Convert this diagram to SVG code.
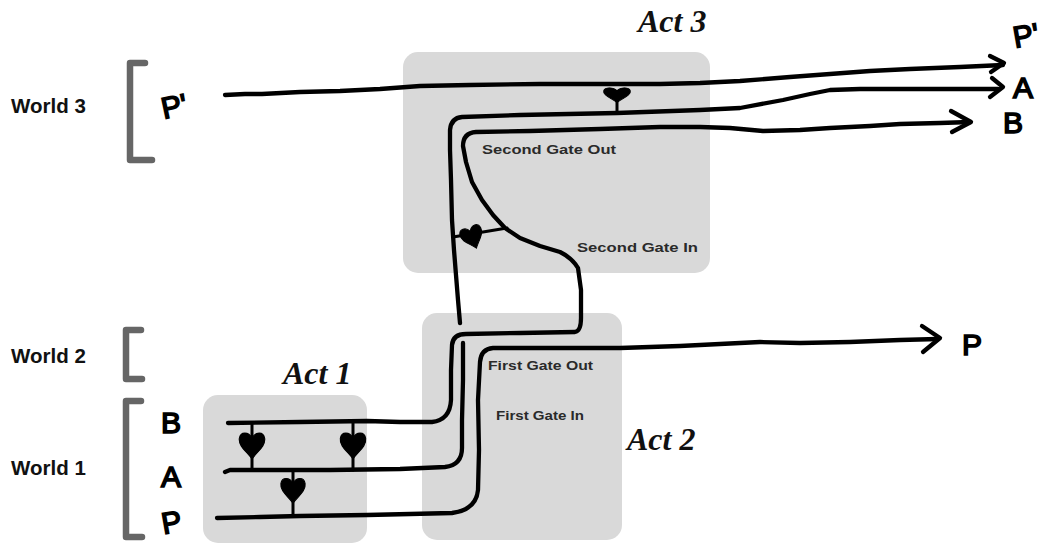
<svg xmlns="http://www.w3.org/2000/svg" width="1050" height="544" viewBox="0 0 1050 544">
<style>
.box{fill:#d9d9d9}
.act{font-family:"Liberation Serif",serif;font-weight:bold;font-style:italic;font-size:32px;fill:#111}
.gate{font-family:"Liberation Sans",sans-serif;font-weight:bold;font-size:13.5px;fill:#2a2a2a}
.world{font-family:"Liberation Sans",sans-serif;font-weight:bold;font-size:20.5px;fill:#111}
.brk{fill:none;stroke:#666;stroke-width:6.5;stroke-linecap:round;stroke-linejoin:round}
.hand{font-family:"Liberation Sans",sans-serif;font-size:30px;fill:#000;stroke:#000;stroke-width:1.6}
.wire{fill:none;stroke:#000;stroke-width:4.3;stroke-linecap:round;stroke-linejoin:round}
.heart{fill:#000;stroke:#000;stroke-width:1}
.stem{fill:none;stroke:#000;stroke-width:3;stroke-linecap:round}
</style>
<defs>
<path id="hrt" d="M0,13 C-4,7 -12,2 -11,-5 C-10,-11 -3,-11 0,-5 C3,-11 10,-11 11,-5 C12,2 4,7 0,13 Z"/>
</defs>

<g id="act3">
<rect class="box" x="403" y="52" width="307" height="221" rx="15"/>
<text class="act" x="638" y="32">Act 3</text>
<text class="gate" x="482" y="154" textLength="134" lengthAdjust="spacingAndGlyphs">Second Gate Out</text>
<text class="gate" x="577" y="252" textLength="121" lengthAdjust="spacingAndGlyphs">Second Gate In</text>
</g>

<g id="act2">
<rect class="box" x="422" y="313" width="200" height="227" rx="15"/>
<text class="act" x="627" y="450">Act 2</text>
<text class="gate" x="488" y="370" textLength="105" lengthAdjust="spacingAndGlyphs">First Gate Out</text>
<text class="gate" x="496" y="420" textLength="88" lengthAdjust="spacingAndGlyphs">First Gate In</text>
</g>

<g id="act1">
<rect class="box" x="203" y="395" width="164" height="148" rx="15"/>
<text class="act" x="283" y="384">Act 1</text>
</g>

<g id="world3">
<text class="world" x="11" y="113">World 3</text>
<path class="brk" d="M145,63 L130,63 L130,160 L152,160"/>
<text class="hand" x="160" y="117" transform="rotate(-12 172 100)">P'</text>
</g>

<g id="world2">
<text class="world" x="11" y="363">World 2</text>
<path class="brk" d="M141,330 L126,330 L126,379 L142,379"/>
</g>

<g id="world1">
<text class="world" x="11" y="475">World 1</text>
<path class="brk" d="M141,401 L126,401 L126,537 L142,537"/>
<text class="hand" x="161" y="433">B</text>
<text class="hand" x="161" y="487" font-size="26">A</text>
<text class="hand" x="161" y="533" transform="rotate(-10 170 520)">P</text>
</g>

<g id="outputs">
<text class="hand" x="1012" y="46" transform="rotate(-10 1025 30)">P'</text>
<text class="hand" x="1013" y="98" font-size="26">A</text>
<text class="hand" x="1003" y="133" font-size="28">B</text>
<text class="hand" x="962" y="355">P</text>
</g>

<g id="connectors">
<path class="wire" d="M225,95 L245,94 L262,94 L300,92 L340,91 L380,89 L420,86 L470,85 L540,84 L617,84 L660,84 L700,83 L740,81 L790,77 L830,74 L870,71 L910,69 L960,67 L1003,65"/>
<path class="wire" d="M990,56 L1004,63 L991,72"/>
<path class="wire" d="M460,323 L458,300 L456,275 L454,250 L452,220 L451,180 L450,150 L450,130 Q451,118 462,117 L520,115 L617,113 L700,110 L740,108 L783,100 L810,94 L830,90 L860,89 L920,89 L998,89"/>
<path class="wire" d="M992,78 L1003,87 L990,97"/>
<path class="wire" d="M463,343 L463,380 L462,420 L462,448 Q462,465 445,467 L400,469 L330,470 L260,470 L230,470 L225,472"/>
<path class="wire" d="M228,423 L300,422 L367,421 L400,422 L432,422 Q450,420 451,400 L451,370 L452,345 Q453,334 466,334 L520,333 L575,332 Q581,331 581,318 L581,290 L578,268 Q572,258 560,252 L540,246 L520,238 L505,228 L493,215 L482,200 L472,182 L466,162 L463,146 Q463,133 476,132 L530,131 L600,129 L660,127 L700,127 L730,128 L763,131 L800,130 L830,128 L870,126 L900,124 L940,123 L970,122"/>
<path class="wire" d="M951,111 L971,122 L952,132"/>
<path class="wire" d="M217,518 L260,517 L300,516 L367,515 L410,514 L452,513 Q476,510 478,490 L479,450 L478,400 L480,362 Q481,349 493,348 L560,348 L620,348 L680,346 L720,344 L760,342 L800,343 L850,342 L900,340 L938,339"/>
<path class="wire" d="M922,326 L940,338 L923,352"/>
<path class="stem" d="M252,423 L252,470 M353,422 L353,470 M293,470 L293,515 M617,112 L617,98 M453,237 L507,228"/>
<use href="#hrt" class="heart" transform="translate(252,444) scale(1.15)"/>
<use href="#hrt" class="heart" transform="translate(353,444) scale(1.15)"/>
<use href="#hrt" class="heart" transform="translate(293,489) scale(1.1)"/>
<use href="#hrt" class="heart" transform="translate(617,94) scale(1.2,0.65)"/>
<use href="#hrt" class="heart" transform="translate(472,236) rotate(-20) scale(1)"/>
</g>
</svg>
